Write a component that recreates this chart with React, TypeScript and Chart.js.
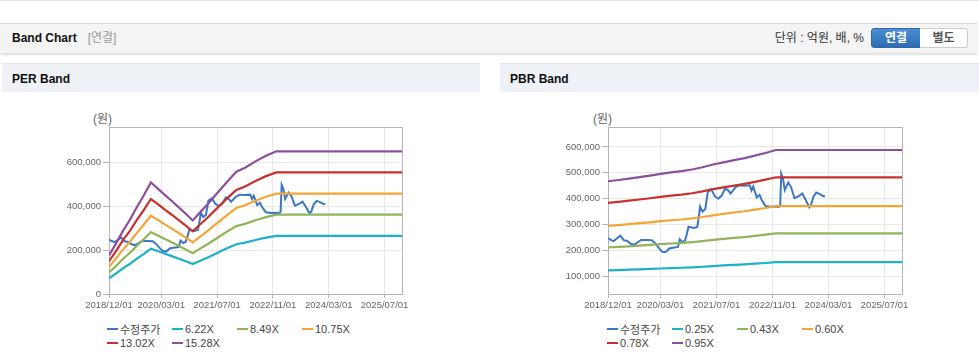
import React, { useEffect, useRef } from 'react';
import { Chart, registerables } from 'chart.js';

Chart.register(...registerables);

// ---------- data ----------
// x values are months counted from 2018/12/01
const xTickLabels = ['2018/12/01', '2020/03/01', '2021/07/01', '2022/11/01', '2024/03/01', '2025/07/01'];
const xAxisEnd = '2025/12/01';

const priceLabel = '수정주가';
const priceMonths = [0, 0.8, 1.6, 2.5, 3.5, 4.5, 5.5, 6.5, 7.5, 8.5, 9.5, 11, 12.5, 13.5, 14.5, 15.5, 16.5, 17.5, 19, 20, 20.5, 21.3, 22, 22.5, 23, 24.5, 25.5, 26, 26.3, 27, 27.8, 28.5, 29.5, 30.5, 31.5, 32.5, 33.5, 34.5, 35, 36.5, 37.5, 39, 40.5, 41, 41.5, 42.5, 43.3, 44, 45, 46.5, 48, 48.8, 49.2, 49.5, 50, 50.5, 51.5, 52.3, 53.3, 54.5, 55.5, 56.5, 57.5, 58, 58.7, 59.5, 60.5, 61.5, 62];
const priceValues = [248000, 241000, 236000, 246000, 257000, 240000, 237000, 226000, 222000, 232000, 241000, 241000, 240000, 228000, 210000, 195000, 194000, 208000, 212000, 214000, 243000, 232000, 238000, 262000, 292000, 287000, 291000, 335000, 370000, 350000, 360000, 425000, 436000, 410000, 400000, 412000, 440000, 430000, 420000, 445000, 452000, 450000, 452000, 432000, 447000, 405000, 415000, 393000, 372000, 369000, 370000, 368000, 374000, 497000, 478000, 433000, 462000, 445000, 402000, 410000, 420000, 395000, 367000, 376000, 408000, 424000, 418000, 410000, 410000];

const perBandLabels = ['6.22X', '8.49X', '10.75X', '13.02X', '15.28X'];
const perBandMonths = [0, 2, 4, 6, 8, 10, 12, 14, 16, 18, 20, 22, 24, 26, 28, 30, 32, 34, 36.5, 39, 42, 45, 48, 84];
const per622 = [71500, 93300, 116900, 137500, 161100, 182900, 206500, 195300, 183500, 172300, 160500, 148700, 136200, 150500, 164200, 179100, 194100, 209000, 226400, 233900, 245700, 256300, 264400, 264400];
const per849 = [97600, 127400, 159600, 187600, 219900, 249600, 281900, 266600, 250500, 235200, 219000, 202900, 185900, 205500, 224100, 244500, 264900, 285300, 309000, 319200, 335400, 349800, 360800, 360800];
const per1075 = [123600, 161300, 202100, 237600, 278400, 316100, 356900, 337600, 317100, 297800, 277400, 256900, 235400, 260200, 283800, 309600, 335400, 361200, 391300, 404200, 424600, 442900, 456900, 456900];
const per1302 = [149700, 195300, 244800, 287700, 337200, 382800, 432300, 408800, 384100, 360700, 335900, 311200, 285100, 315100, 343700, 375000, 406200, 437500, 473900, 489600, 514300, 536400, 553400, 553400];
const per1528 = [175700, 229200, 287300, 337700, 395800, 449200, 507300, 479800, 450800, 423300, 394200, 365200, 334600, 369800, 403400, 440100, 476700, 513400, 556200, 574500, 603600, 629500, 649400, 649400];
const perYTicks = [0, 200000, 400000, 600000];

const pbrBandLabels = ['0.25X', '0.43X', '0.60X', '0.78X', '0.95X'];
const pbrBandMonths = [0, 3, 6, 9, 12, 15, 18, 21, 24, 27, 30, 33, 36, 39, 42, 45, 48, 84];
const pbr025 = [123000, 124300, 125800, 127300, 128800, 130500, 132000, 133300, 135000, 137300, 140000, 142300, 144500, 146500, 149000, 151800, 154800, 154800];
const pbr043 = [211600, 213700, 216300, 218900, 221500, 224500, 227000, 229200, 232200, 236100, 240800, 244700, 248500, 252000, 256300, 261000, 266200, 266200];
const pbr060 = [295200, 298200, 301800, 305400, 309000, 313200, 316800, 319800, 324000, 329400, 336000, 341400, 346800, 351600, 357600, 364200, 371400, 371400];
const pbr078 = [383800, 387700, 392300, 397000, 401700, 407200, 411800, 415700, 421200, 428200, 436800, 443800, 450800, 457100, 464900, 473500, 482800, 482800];
const pbr095 = [467400, 472200, 477900, 483600, 489300, 495900, 501600, 506400, 513000, 521600, 532000, 540600, 549100, 556700, 566200, 576700, 588100, 588100];
const pbrYTicks = [100000, 200000, 300000, 400000, 500000, 600000];

const priceColor = '#3a77c6';
const bandColors = ['#1cb2c5', '#8fb558', '#f4a534', '#c7322e', '#8d4f9d'];

// ---------- helpers ----------
const monthIndex = (label: string) => {
  const [y, m] = label.split('/').map(Number);
  return (y - 2018) * 12 + (m - 12);
};
const xTickMonths = xTickLabels.map(monthIndex);
const xMax = monthIndex(xAxisEnd);

const toPoints = (xs: number[], ys: number[]) => xs.map((x, i) => ({ x, y: ys[i] }));

const FONT = '"Liberation Sans", Arial, "Noto Sans CJK KR", sans-serif';
const AXIS = '#b5b5b5';
const GRID = '#e8e8e8';

const framePlugin = {
  id: 'frame',
  beforeDatasetsDraw(chart: any) {
    const { ctx, chartArea } = chart;
    ctx.save();
    ctx.strokeStyle = AXIS;
    ctx.lineWidth = 1;
    ctx.strokeRect(
      Math.round(chartArea.left) + 0.5,
      Math.round(chartArea.top) + 0.5,
      Math.round(chartArea.right - chartArea.left),
      Math.round(chartArea.bottom - chartArea.top)
    );
    ctx.restore();
  },
};

type BandProps = {
  left: number;
  top: number;
  width: number;
  height: number;
  yAxisWidth: number;
  yMin: number;
  yMax: number;
  yTicks: number[];
  bandMonths: number[];
  bands: number[][];
  bandLabels: string[];
};

function BandCanvas(p: BandProps) {
  const ref = useRef<HTMLCanvasElement | null>(null);
  useEffect(() => {
    if (!ref.current) return;
    const datasets: any[] = [];
    p.bands.forEach((vals, i) => {
      datasets.push({
        label: p.bandLabels[i],
        data: toPoints(p.bandMonths, vals),
        borderColor: bandColors[i],
        backgroundColor: bandColors[i],
        borderWidth: 2.2,
        pointRadius: 0,
        tension: 0,
        fill: false,
      });
    });
    datasets.push({
      label: priceLabel,
      data: toPoints(priceMonths, priceValues),
      borderColor: priceColor,
      backgroundColor: priceColor,
      borderWidth: 2,
      pointRadius: 0,
      tension: 0,
      fill: false,
    });
    const tickFont = { family: FONT, size: 9.5 };
    const chart = new Chart(ref.current, {
      type: 'line',
      data: { datasets },
      plugins: [framePlugin],
      options: {
        animation: false,
        responsive: false,
        maintainAspectRatio: false,
        layout: { padding: { top: 7, right: 18, left: 0, bottom: 0 } },
        plugins: { legend: { display: false }, tooltip: { enabled: false } },
        scales: {
          x: {
            type: 'linear',
            min: 0,
            max: xMax,
            afterBuildTicks: (s: any) => {
              s.ticks = xTickMonths.map((v) => ({ value: v }));
            },
            afterFit: (s: any) => {
              s.height = 26;
              s.paddingLeft = 0;
              s.paddingRight = 0;
            },
            ticks: {
              autoSkip: false,
              maxRotation: 0,
              padding: 2,
              color: '#666',
              font: tickFont,
              callback: (v: any) => {
                const i = xTickMonths.indexOf(Number(v));
                return i >= 0 ? xTickLabels[i] : null;
              },
            },
            grid: { color: GRID, tickColor: AXIS, tickLength: 4 },
            border: { color: AXIS },
          },
          y: {
            type: 'linear',
            min: p.yMin,
            max: p.yMax,
            afterBuildTicks: (s: any) => {
              s.ticks = p.yTicks.map((v) => ({ value: v }));
            },
            afterFit: (s: any) => {
              s.width = p.yAxisWidth;
              s.paddingTop = 0;
              s.paddingBottom = 0;
            },
            ticks: {
              padding: 2,
              color: '#666',
              font: tickFont,
              callback: (v: any) => Number(v).toLocaleString('en-US'),
            },
            grid: { color: GRID, tickColor: AXIS, tickLength: 6 },
            border: { color: AXIS },
          },
        },
      } as any,
    } as any);
    return () => chart.destroy();
  }, []);
  return (
    <canvas
      ref={ref}
      width={p.width}
      height={p.height}
      style={{ position: 'absolute', left: p.left, top: p.top, width: p.width, height: p.height }}
    />
  );
}

function Legend({ left, labels }: { left: number; labels: string[] }) {
  const items = [{ label: priceLabel, color: priceColor }].concat(
    labels.map((l, i) => ({ label: l, color: bandColors[i] }))
  );
  return (
    <div style={{ position: 'absolute', left, top: 322, width: 270 }}>
      {items.map((it, i) => (
        <div
          key={it.label}
          style={{
            position: 'absolute',
            left: (i % 4) * 65,
            top: Math.floor(i / 4) * 14,
            height: 14,
            display: 'flex',
            alignItems: 'center',
            whiteSpace: 'nowrap',
            fontSize: 11,
            color: '#444',
          }}
        >
          <span style={{ display: 'inline-block', width: 11, height: 2, background: it.color, marginRight: 2 }} />
          <span>{it.label}</span>
        </div>
      ))}
    </div>
  );
}

function TitleBar({ left, width, title }: { left: number; width: number; title: string }) {
  return (
    <div
      style={{
        position: 'absolute',
        left,
        top: 63,
        width,
        height: 28,
        background: '#eef1f6',
        borderTop: '1px solid #e2e6ec',
      }}
    >
      <div style={{ position: 'absolute', left: 10, top: 0, lineHeight: '30px', fontSize: 12, fontWeight: 'bold', color: '#111' }}>
        {title}
      </div>
    </div>
  );
}

export default function App() {
  return (
    <div
      style={{
        position: 'absolute',
        left: 0,
        top: 0,
        width: 979,
        height: 361,
        overflow: 'hidden',
        background: '#fff',
        fontFamily: FONT,
      }}
    >
      <div style={{ position: 'absolute', left: 0, top: 0, width: 979, height: 1, background: '#e4e4e4' }} />
      {/* header bar */}
      <div
        style={{
          position: 'absolute',
          left: 0,
          top: 23,
          width: 977,
          height: 29,
          background: '#f4f4f4',
          borderTop: '1px solid #d6d6d6',
          boxShadow: '0 2px 2px rgba(0,0,0,0.13)',
        }}
      >
        <div style={{ position: 'absolute', left: 12, top: 0, lineHeight: '29px', fontSize: 12, fontWeight: 'bold', color: '#111' }}>
          Band Chart
          <span style={{ fontWeight: 'normal', color: '#999', marginLeft: 11 }}>[연결]</span>
        </div>
        <div style={{ position: 'absolute', right: 113, top: 0, lineHeight: '29px', fontSize: 12, color: '#333', whiteSpace: 'nowrap' }}>
          단위 : 억원, 배, %
        </div>
        <div
          style={{
            position: 'absolute',
            left: 871,
            top: 4,
            width: 48,
            height: 18,
            lineHeight: '18px',
            textAlign: 'center',
            fontSize: 12,
            fontWeight: 'bold',
            color: '#fff',
            background: 'linear-gradient(#4b8ed4, #2d6cb3)',
            border: '1px solid #2f69ab',
            borderRadius: '3px 0 0 3px',
          }}
        >
          연결
        </div>
        <div
          style={{
            position: 'absolute',
            left: 920,
            top: 4,
            width: 47,
            height: 18,
            lineHeight: '18px',
            textAlign: 'center',
            fontSize: 12,
            fontWeight: 'bold',
            color: '#555',
            background: '#fff',
            border: '1px solid #cccccc',
            borderLeft: 'none',
            borderRadius: '0 3px 3px 0',
          }}
        >
          별도
        </div>
      </div>

      <TitleBar left={2} width={478} title="PER Band" />
      <TitleBar left={500} width={479} title="PBR Band" />

      <div style={{ position: 'absolute', left: 93, top: 109, fontSize: 12, color: '#666' }}>(원)</div>
      <div style={{ position: 'absolute', left: 593, top: 109, fontSize: 12, color: '#666' }}>(원)</div>

      <BandCanvas
        left={40}
        top={120}
        width={380}
        height={200}
        yAxisWidth={69}
        yMin={0}
        yMax={760000}
        yTicks={perYTicks}
        bandMonths={perBandMonths}
        bands={[per622, per849, per1075, per1302, per1528]}
        bandLabels={perBandLabels}
      />
      <BandCanvas
        left={540}
        top={120}
        width={380}
        height={200}
        yAxisWidth={68}
        yMin={32000}
        yMax={677000}
        yTicks={pbrYTicks}
        bandMonths={pbrBandMonths}
        bands={[pbr025, pbr043, pbr060, pbr078, pbr095]}
        bandLabels={pbrBandLabels}
      />

      <Legend left={107} labels={perBandLabels} />
      <Legend left={607} labels={pbrBandLabels} />
    </div>
  );
}
